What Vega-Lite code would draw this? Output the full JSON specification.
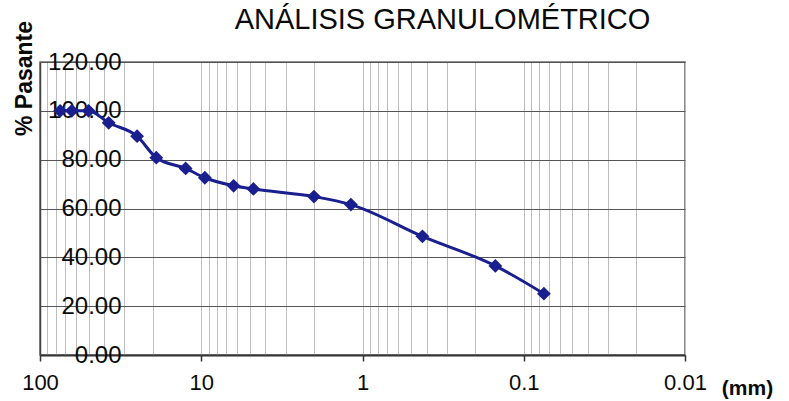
{
  "$schema": "https://vega.github.io/schema/vega-lite/v6.json",
  "width": 645,
  "height": 293,
  "autosize": {"type": "none"},
  "padding": {"left": 40, "top": 62, "right": 104, "bottom": 46},
  "background": "white",
  "config": {
    "font": "Liberation Sans",
    "view": {"stroke": "#6a6a6a", "strokeWidth": 1.5}
  },
  "title": {
    "text": "ANÁLISIS GRANULOMÉTRICO",
    "font": "Liberation Sans",
    "fontSize": 29,
    "fontWeight": "normal",
    "color": "#0a0a0a",
    "anchor": "middle",
    "frame": "group",
    "baseline": "alphabetic",
    "dx": 80,
    "offset": -38
  },
  "data": {
    "values": [
      {"abertura": 75, "pasante": 100},
      {"abertura": 63.5, "pasante": 100},
      {"abertura": 50, "pasante": 100},
      {"abertura": 37.5, "pasante": 95.1},
      {"abertura": 25, "pasante": 89.6},
      {"abertura": 19, "pasante": 80.8},
      {"abertura": 12.5, "pasante": 76.4},
      {"abertura": 9.5, "pasante": 72.6},
      {"abertura": 6.3, "pasante": 69.3},
      {"abertura": 4.75, "pasante": 68.0},
      {"abertura": 2.0, "pasante": 64.9},
      {"abertura": 1.18, "pasante": 61.6},
      {"abertura": 0.425, "pasante": 48.6},
      {"abertura": 0.15, "pasante": 36.5},
      {"abertura": 0.075, "pasante": 25.1}
    ]
  },
  "mark": {
    "type": "line",
    "color": "#1a1f8f",
    "strokeWidth": 3,
    "interpolate": "monotone",
    "point": {"shape": "diamond", "size": 190, "filled": true, "color": "#1a1f8f", "opacity": 1}
  },
  "encoding": {
    "x": {
      "field": "abertura",
      "type": "quantitative",
      "scale": {"type": "log", "domain": [0.01, 100], "reverse": true, "nice": false},
      "axis": {
        "values": [100, 90, 80, 70, 60, 50, 40, 30, 20, 10, 9, 8, 7, 6, 5, 4, 3, 2, 1, 0.9, 0.8, 0.7, 0.6, 0.5, 0.4, 0.3, 0.2, 0.1, 0.09, 0.08, 0.07, 0.06, 0.05, 0.04, 0.03, 0.02, 0.01],
        "format": "~g",
        "labelExpr": "indexof([100, 10, 1, 0.1, 0.01], datum.value) >= 0 ? datum.label : ''",
        "labelFont": "Liberation Sans",
        "labelFontSize": 22,
        "labelColor": "#0a0a0a",
        "labelBaseline": "top",
        "labelPadding": 11,
        "labelOverlap": false,
        "labelFlush": false,
        "tickSize": 6,
        "tickWidth": 1.5,
        "tickColor": {"condition": {"test": "indexof([100, 10, 1, 0.1, 0.01], datum.value) >= 0", "value": "#333333"}, "value": "transparent"},
        "grid": true,
        "gridColor": "#bdbdbd",
        "gridWidth": 1,
        "domainColor": "#333333",
        "domainWidth": 2,
        "title": "(mm)",
        "titleFont": "Liberation Sans",
        "titleFontSize": 21,
        "titleFontWeight": "bold",
        "titleColor": "#0a0a0a",
        "titleAlign": "center",
        "titleBaseline": "middle",
        "titleX": 707,
        "titleY": 33
      }
    },
    "y": {
      "field": "pasante",
      "type": "quantitative",
      "scale": {"domain": [0, 120], "nice": false, "zero": false},
      "axis": {
        "values": [0, 20, 40, 60, 80, 100, 120],
        "format": ".2f",
        "labelFont": "Liberation Sans",
        "labelFontSize": 24,
        "labelColor": "#0a0a0a",
        "labelBaseline": "middle",
        "labelPadding": -81,
        "labelFlush": false,
        "labelOverlap": false,
        "ticks": false,
        "grid": true,
        "gridColor": "#555555",
        "gridWidth": 1.2,
        "domainColor": "#444444",
        "domainWidth": 1.5,
        "title": "% Pasante",
        "titleFont": "Liberation Sans",
        "titleFontSize": 23,
        "titleFontWeight": "bold",
        "titleColor": "#0a0a0a",
        "titleAngle": 270,
        "titleAlign": "center",
        "titleBaseline": "middle",
        "titleX": -16,
        "titleY": 16
      }
    }
  }
}
